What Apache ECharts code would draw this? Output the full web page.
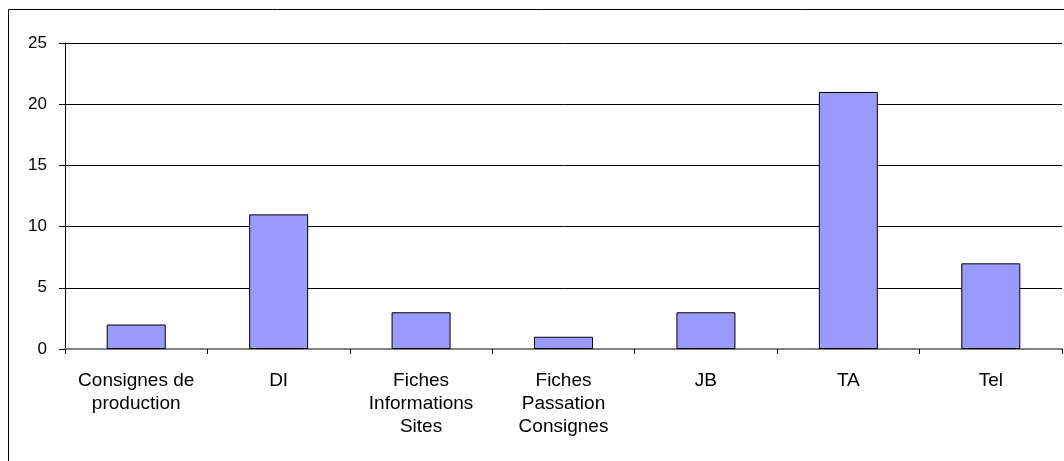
<!DOCTYPE html>
<html>
<head>
<meta charset="utf-8">
<script src="https://cdn.jsdelivr.net/npm/echarts@6/dist/echarts.min.js"></script>
<style>
  html, body { margin: 0; padding: 0; background: #fff; }
  #chart { width: 1064px; height: 461px; }
</style>
</head>
<body>
<div id="chart"></div>
<script>
// catégories et valeurs
const categories = [
  "Consignes de\nproduction",
  "DI",
  "Fiches\nInformations\nSites",
  "Fiches\nPassation\nConsignes",
  "JB",
  "TA",
  "Tel"
];
const values = [2, 11, 3, 1, 3, 21, 7];
const yTicks = [0, 5, 10, 15, 20, 25];

const chart = echarts.init(document.getElementById("chart"));

chart.setOption({
  animation: false,
  graphic: [
    {
      type: "rect",
      shape: { x: 8.5, y: 9.5, width: 1100, height: 500 },
      style: { fill: "none", stroke: "#000", lineWidth: 1 },
      silent: true
    }
  ],
  grid: { left: 65, right: 2, top: 43, bottom: 112 },
  xAxis: {
    type: "category",
    data: categories,
    axisLine: { lineStyle: { color: "#808080", width: 2 } },
    axisTick: { show: true, length: 5, lineStyle: { color: "#000" } },
    axisLabel: {
      color: "#000",
      fontFamily: "Liberation Sans, Arial",
      fontSize: 19,
      lineHeight: 23,
      margin: 20,
      interval: 0
    }
  },
  yAxis: {
    type: "value",
    min: yTicks[0],
    max: yTicks[yTicks.length - 1],
    interval: 5,
    axisLine: { show: true, lineStyle: { color: "#000" } },
    axisTick: { show: true, length: 6, lineStyle: { color: "#000" } },
    splitLine: { show: true, lineStyle: { color: "#000", width: 1 } },
    axisLabel: {
      color: "#000",
      fontFamily: "Liberation Sans, Arial",
      fontSize: 17,
      margin: 18
    }
  },
  series: [
    {
      type: "bar",
      data: values,
      barWidth: 59,
      itemStyle: { color: "#9999FF", borderColor: "#000", borderWidth: 1 }
    }
  ]
});
</script>
</body>
</html>
